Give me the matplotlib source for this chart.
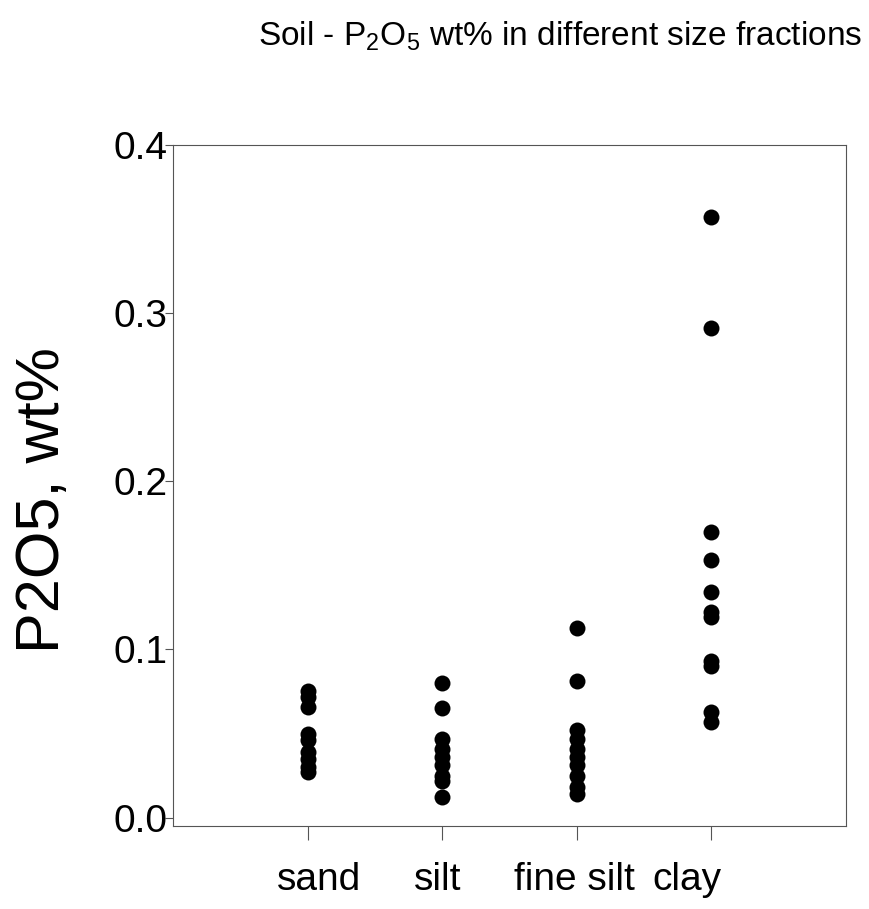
import matplotlib
matplotlib.use('Agg')
import matplotlib.pyplot as plt
from matplotlib.transforms import ScaledTranslation

plt.rcParams['font.family'] = ['Liberation Sans', 'DejaVu Sans']
plt.rcParams['mathtext.default'] = 'regular'

# ======================
# DATA (P2O5 wt% per size fraction)
# ======================
categories = ['sand', 'silt', 'fine silt', 'clay']
sand = [0.075, 0.072, 0.066, 0.050, 0.046, 0.039, 0.035, 0.030, 0.027]
silt = [0.080, 0.065, 0.047, 0.041, 0.036, 0.031, 0.025, 0.022, 0.012]
fine_silt = [0.113, 0.0815, 0.052, 0.047, 0.041, 0.036, 0.031, 0.025, 0.018, 0.014]
clay = [0.357, 0.291, 0.170, 0.153, 0.134, 0.122, 0.119, 0.093, 0.090, 0.063, 0.057]
y_ticks = [0.0, 0.1, 0.2, 0.3, 0.4]

groups = [sand, silt, fine_silt, clay]

# ======================
# PLOT
# ======================
fig = plt.figure(figsize=(8.7, 9.09), dpi=100)
ax = fig.add_axes([0.199, 0.0913, 0.7735, 0.7492])

for i, vals in enumerate(groups):
    ax.plot([i + 1] * len(vals), vals, 'o', color='black', markersize=11.5,
            markeredgewidth=0, linestyle='none')

ax.set_xlim(0, 5)
ax.set_ylim(-0.005, 0.4)
ax.set_yticks(y_ticks)
ax.set_yticklabels(['%.1f' % v for v in y_ticks])
ax.set_xticks(range(1, len(categories) + 1))
ax.set_xticklabels(categories)

for s in ax.spines.values():
    s.set_linewidth(0.8)
    s.set_color('#555555')

ax.tick_params(axis='y', direction='out', length=6, width=0.8, color='#555555',
               labelsize=28, pad=-2)
ax.tick_params(axis='x', direction='out', length=10, width=0.8, color='#555555',
               labelsize=28, pad=16)

# labels in the original are not exactly centred on the ticks
offsets = [11, -5, -2, -25]
for lbl, dx in zip(ax.get_xticklabels(), offsets):
    lbl.set_transform(lbl.get_transform() + ScaledTranslation(dx / 100, 0, fig.dpi_scale_trans))

fig.text(0.05, 0.45, 'P2O5, wt%', rotation=90, fontsize=44,
         ha='center', va='center')
fig.text(0.644, 0.96, 'Soil - P$_2$O$_5$ wt% in different size fractions',
         fontsize=24, ha='center', va='center')

plt.savefig('out.png', dpi=100)
